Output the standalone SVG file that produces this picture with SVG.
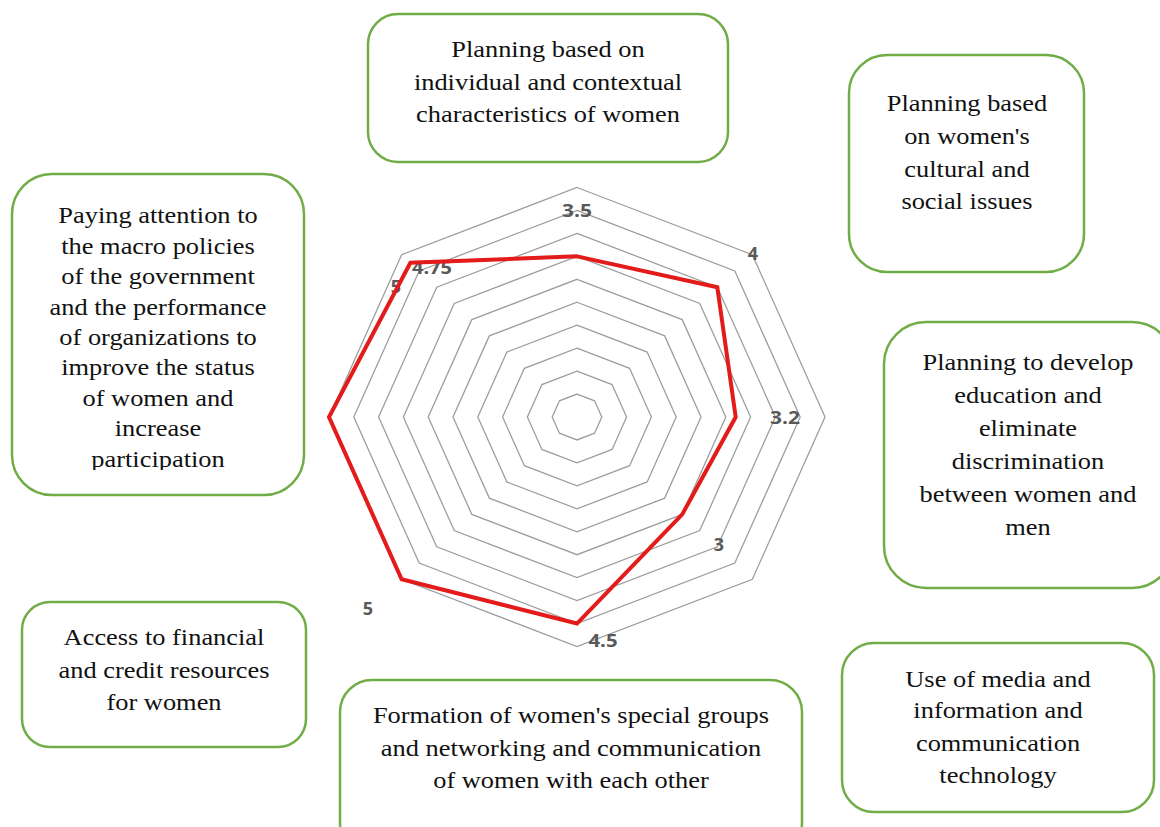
<svg xmlns="http://www.w3.org/2000/svg" width="1160" height="827" viewBox="0 0 1160 827">
<style>
.box{fill:#fff;stroke:#70AD47;stroke-width:2.5}
.t{font-family:"Liberation Serif","Times New Roman",serif;font-size:24px;fill:#111;text-anchor:middle}
.ring{fill:none;stroke:#9E9E9E;stroke-width:1.3}
.data{fill:none;stroke:#E31B1B;stroke-width:4;stroke-linejoin:miter}
.lbl{font-family:"Open Sans","DejaVu Sans",sans-serif;font-weight:bold;font-size:18px;fill:#595959;text-anchor:middle}
</style>
<defs>
<clipPath id="clipLeft"><rect x="0" y="0" width="400" height="470"/></clipPath>
</defs>
<rect width="1160" height="827" fill="#fff"/>

<g id="radar">
<polygon class="ring" points="577,394.05 594.54,400.77 601.8,417 594.54,433.23 577,439.95 559.46,433.23 552.2,417 559.46,400.77"/>
<polygon class="ring" points="577,371.1 612.07,384.54 626.6,417 612.07,449.46 577,462.9 541.93,449.46 527.4,417 541.93,384.54"/>
<polygon class="ring" points="577,348.15 629.61,368.32 651.4,417 629.61,465.68 577,485.85 524.39,465.68 502.6,417 524.39,368.32"/>
<polygon class="ring" points="577,325.2 647.14,352.09 676.2,417 647.14,481.91 577,508.8 506.86,481.91 477.8,417 506.86,352.09"/>
<polygon class="ring" points="577,302.25 664.68,335.86 701,417 664.68,498.14 577,531.75 489.32,498.14 453,417 489.32,335.86"/>
<polygon class="ring" points="577,279.3 682.22,319.63 725.8,417 682.22,514.37 577,554.7 471.78,514.37 428.2,417 471.78,319.63"/>
<polygon class="ring" points="577,256.35 699.75,303.4 750.6,417 699.75,530.6 577,577.65 454.25,530.6 403.4,417 454.25,303.4"/>
<polygon class="ring" points="577,233.4 717.29,287.18 775.4,417 717.29,546.82 577,600.6 436.71,546.82 378.6,417 436.71,287.18"/>
<polygon class="ring" points="577,210.45 734.83,270.95 800.2,417 734.83,563.05 577,623.55 419.17,563.05 353.8,417 419.17,270.95"/>
<polygon class="ring" points="577,187.5 752.36,254.72 825,417 752.36,579.28 577,646.5 401.64,579.28 329,417 401.64,254.72"/>
<text class="lbl" x="577" y="217" textLength="30" lengthAdjust="spacingAndGlyphs">3.5</text>
<text class="lbl" x="753" y="260">4</text>
<text class="lbl" x="785" y="424" textLength="30" lengthAdjust="spacingAndGlyphs">3.2</text>
<text class="lbl" x="719" y="551">3</text>
<text class="lbl" x="603" y="647" textLength="29" lengthAdjust="spacingAndGlyphs">4.5</text>
<text class="lbl" x="368" y="615">5</text>
<text class="lbl" x="396" y="293">5</text>
<text class="lbl" x="432" y="274" textLength="40" lengthAdjust="spacingAndGlyphs">4.75</text>
<polygon class="data" points="577,256.35 717.29,287.18 735.7,417 682.22,514.37 577,623.55 401.64,579.28 329,417 410.4,262.8"/>
</g>

<g id="node-top">
<rect class="box" x="368" y="14" width="360" height="148" rx="30"/>
<g transform="translate(548,0) scale(1.1,1)">
<text class="t" x="0" y="57">Planning based on</text>
<text class="t" x="0" y="90">individual and contextual</text>
<text class="t" x="0" y="122">characteristics of women</text>
</g>
</g>

<g id="node-right-top">
<rect class="box" x="849" y="55" width="235" height="217" rx="38"/>
<g transform="translate(967,0) scale(1.1,1)">
<text class="t" x="0" y="111">Planning based</text>
<text class="t" x="0" y="144">on women's</text>
<text class="t" x="0" y="177">cultural and</text>
<text class="t" x="0" y="209.5">social issues</text>
</g>
</g>

<g id="node-right-mid">
<rect class="box" x="884" y="322" width="290" height="266" rx="42"/>
<g transform="translate(1028,0) scale(1.1,1)">
<text class="t" x="0" y="370">Planning to develop</text>
<text class="t" x="0" y="403">education and</text>
<text class="t" x="0" y="436">eliminate</text>
<text class="t" x="0" y="469">discrimination</text>
<text class="t" x="0" y="502">between women and</text>
<text class="t" x="0" y="535">men</text>
</g>
</g>

<g id="node-left">
<rect class="box" x="12" y="174" width="292" height="321" rx="40"/>
<g clip-path="url(#clipLeft)">
<g transform="translate(158,0) scale(1.1,1)">
<text class="t" x="0" y="223">Paying attention to</text>
<text class="t" x="0" y="254">the macro policies</text>
<text class="t" x="0" y="284">of the government</text>
<text class="t" x="0" y="315">and the performance</text>
<text class="t" x="0" y="345">of organizations to</text>
<text class="t" x="0" y="375">improve the status</text>
<text class="t" x="0" y="406">of women and</text>
<text class="t" x="0" y="436">increase</text>
<text class="t" x="0" y="467">participation</text>
</g>
</g>
</g>

<g id="node-left-bottom">
<rect class="box" x="22" y="602" width="284" height="145" rx="28"/>
<g transform="translate(164,0) scale(1.1,1)">
<text class="t" x="0" y="645">Access to financial</text>
<text class="t" x="0" y="678">and credit resources</text>
<text class="t" x="0" y="710">for women</text>
</g>
</g>

<g id="node-bottom-mid">
<rect class="box" x="340" y="680" width="462" height="175" rx="32"/>
<g transform="translate(571,0) scale(1.1,1)">
<text class="t" x="0" y="723" fill="#222">Formation of women's special groups</text>
<text class="t" x="0" y="756.5">and networking and communication</text>
<text class="t" x="0" y="788">of women with each other</text>
</g>
</g>

<g id="node-bottom-right">
<rect class="box" x="842" y="643" width="312" height="169" rx="32"/>
<g transform="translate(998,0) scale(1.1,1)">
<text class="t" x="0" y="687">Use of media and</text>
<text class="t" x="0" y="718.5">information and</text>
<text class="t" x="0" y="751.5">communication</text>
<text class="t" x="0" y="783">technology</text>
</g>
</g>

<g id="connectors"></g>
</svg>
